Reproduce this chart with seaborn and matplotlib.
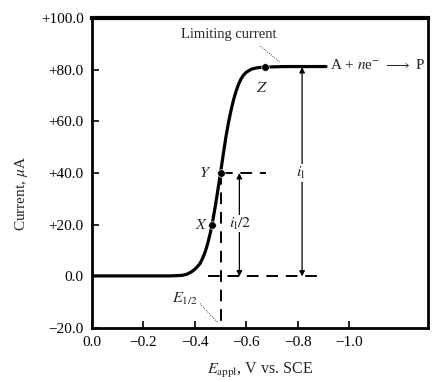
import numpy as np
import pandas as pd
import seaborn as sns
import matplotlib.pyplot as plt

# polarographic wave
potential = [0.00, -0.30, -0.35, -0.37, -0.38, -0.39, -0.40, -0.41, -0.42, -0.43,
             -0.44, -0.45, -0.46, -0.47, -0.48, -0.49, -0.50, -0.51, -0.52, -0.53,
             -0.54, -0.55, -0.56, -0.57, -0.58, -0.59, -0.60, -0.62, -0.64, -0.67,
             -0.75, -0.91]
current = [0.2, 0.2, 0.4, 0.9, 1.4, 2.0, 2.8, 3.8, 5.0, 7.0,
           9.5, 12.8, 16.8, 21.8, 27.5, 33.8, 40.2, 47.0, 53.5, 59.2,
           64.0, 68.2, 71.6, 74.4, 76.5, 78.0, 79.0, 80.2, 80.7, 81.0,
           81.2, 81.2]

point_names = ["X", "Y", "Z"]
point_potential = [-0.466, -0.50, -0.673]
point_current = [20.0, 40.0, 81.0]

e_half = -0.50
i_limit = 81.0

x_ticks = [0.0, -0.2, -0.4, -0.6, -0.8, -1.0]
x_ticklabels = ["0.0", "\u22120.2", "\u22120.4", "\u22120.6", "\u22120.8", "\u22121.0"]
y_ticks = [-20, 0, 20, 40, 60, 80, 100]
y_ticklabels = ["\u221220.0", "0.0", "+20.0", "+40.0", "+60.0", "+80.0", "+100.0"]

sns.set_style("ticks")
plt.rcParams["font.family"] = ["Liberation Serif", "DejaVu Serif"]
plt.rcParams["mathtext.fontset"] = "stix"

df = pd.DataFrame({"E": potential, "i": current})
pts = pd.DataFrame({"E": point_potential, "i": point_current, "name": point_names})

fig = plt.figure(figsize=(4.32, 3.82), dpi=100)
ax = fig.add_axes([0.213, 0.141, 0.778, 0.812])

sns.lineplot(data=df, x="E", y="i", color="black", linewidth=2.3, ax=ax, sort=False)
sns.scatterplot(data=pts, x="E", y="i", color="black", s=30, zorder=5, ax=ax)

dash = dict(color="black", linewidth=1.4, linestyle=(0, (6, 4)))
ax.plot([-0.45, -0.89], [0, 0], **dash)
ax.plot([e_half, e_half], [40, -20], **dash)
ax.plot([e_half, -0.675], [40, 40], **dash)

# arrows for i_l and i_l/2
arr = dict(arrowstyle="<|-|>", color="black", lw=0.9, mutation_scale=8, shrinkA=0, shrinkB=0)
ax.annotate("", xy=(-0.573, 0), xytext=(-0.573, 40), arrowprops=arr)
ax.annotate("", xy=(-0.817, 0), xytext=(-0.817, i_limit), arrowprops=arr)
ax.text(-0.575, 20.5, "$i_{\\rm l}/2$", fontsize=11.5, ha="center", va="center",
        bbox=dict(facecolor="white", edgecolor="none", pad=0.5))
ax.text(-0.81, 40, "$i_{\\rm l}$", fontsize=11.5, ha="center", va="center",
        bbox=dict(facecolor="white", edgecolor="none", pad=0.5))

# point labels
ax.text(-0.425, 20, "$X$", fontsize=11.5, ha="center", va="center")
ax.text(-0.44, 40, "$Y$", fontsize=11.5, ha="center", va="center")
ax.text(-0.66, 73, "$Z$", fontsize=11.5, ha="center", va="center")

ax.text(-0.53, 93.5, "Limiting current", fontsize=10.5, ha="center", va="center")
ax.plot([-0.655, -0.73], [89, 83], color="black", linewidth=0.6, linestyle=":")

ax.text(-0.925, 81.8, "A + $n$e$^{-}$ $\\longrightarrow$ P", fontsize=11,
        ha="left", va="center")

ax.text(-0.36, -8.8, "$E_{1/2}$", fontsize=11.5, ha="center", va="center")
ax.plot([-0.42, -0.49], [-10.5, -18], color="black", linewidth=0.6, linestyle=":")

ax.set_xlim(0, -1.307)
ax.set_ylim(-20, 100)
ax.set_xticks(x_ticks)
ax.set_xticklabels(x_ticklabels, fontsize=11)
ax.set_yticks(y_ticks)
ax.set_yticklabels(y_ticklabels, fontsize=11)
ax.tick_params(direction="in", length=5, width=1.2, pad=6, colors="black")
for s in ax.spines.values():
    s.set_linewidth(2.0)
    s.set_color("black")
ax.spines["top"].set_linewidth(3.0)

ax.set_xlabel("$E_{\\rm appl}$, V vs. SCE", fontsize=11.5)
ax.set_ylabel("Current, $\\mu$A", fontsize=11)
ax.xaxis.set_label_coords(0.5, -0.105)
ax.yaxis.set_label_coords(-0.184, 0.435)

fig.savefig("out.png", dpi=100)
